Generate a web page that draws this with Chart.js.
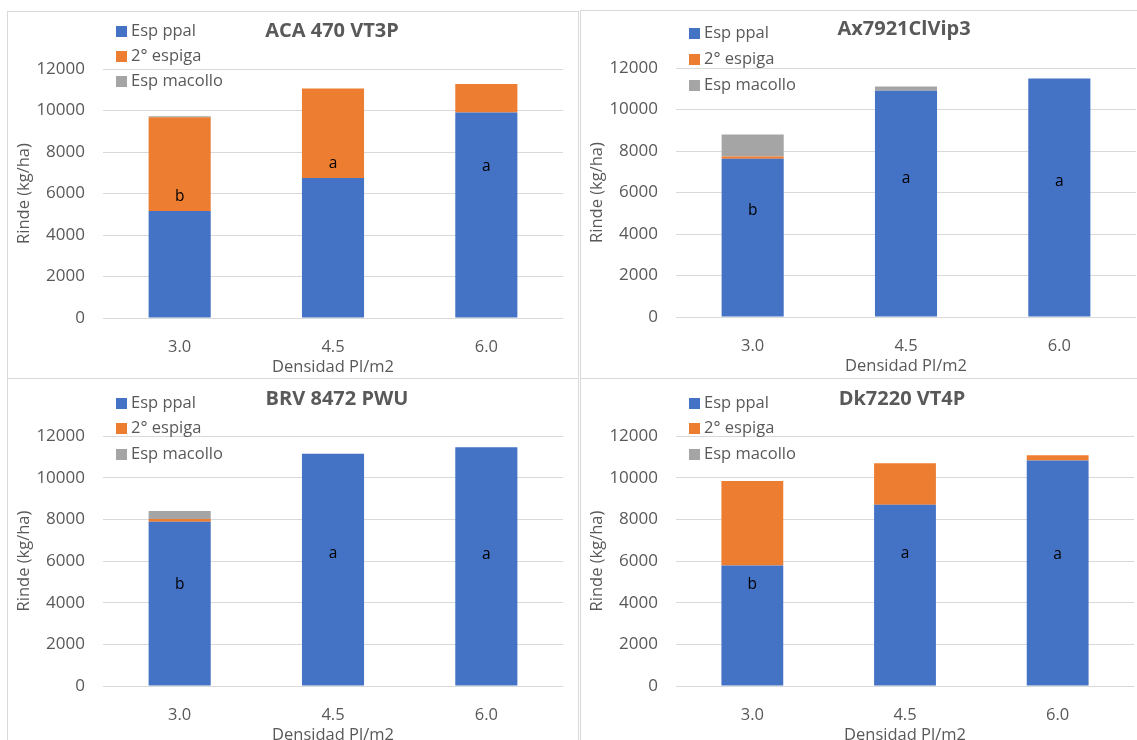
<!DOCTYPE html>
<html><head><meta charset="utf-8">
<script src="https://cdn.jsdelivr.net/npm/chart.js@4.4.0/dist/chart.umd.min.js"></script>
<style>
html,body{margin:0;padding:0;background:#fff;width:1137px;height:740px;overflow:hidden;position:relative}
.panel{position:absolute;border:1px solid #d9d9d9;box-sizing:border-box;overflow:hidden;background:#fff}
.panel canvas{position:absolute;left:0;top:0}
</style></head><body>
<div class="panel" style="left:7px;top:11px;width:572px;height:369px"><canvas id="c1" width="570" height="367"></canvas></div>
<div class="panel" style="left:580px;top:10px;width:560px;height:369px"><canvas id="c2" width="556" height="367"></canvas></div>
<div class="panel" style="left:7px;top:378px;width:572px;height:380px"><canvas id="c3" width="570" height="368"></canvas></div>
<div class="panel" style="left:580px;top:378px;width:560px;height:380px"><canvas id="c4" width="556" height="368"></canvas></div>
<script>
// ---- data ----
const categories = ['3.0', '4.5', '6.0'];
const seriesNames = ['Esp ppal', '2° espiga', 'Esp macollo'];
const yTickMin = 0, yTickMax = 12000, yTickStep = 2000;
const xAxisTitle = 'Densidad Pl/m2';
const yAxisTitle = 'Rinde (kg/ha)';

const titleACA = 'ACA 470 VT3P';
const ppalACA = [5160, 6750, 9900];
const espigaACA = [4520, 4310, 1380];
const macolloACA = [40, 0, 0];
const lettersACA = ['b', 'a', 'a'];

const titleAx = 'Ax7921ClVip3';
const ppalAx = [7630, 10900, 11490];
const espigaAx = [110, 0, 0];
const macolloAx = [1050, 210, 0];
const lettersAx = ['b', 'a', 'a'];

const titleBRV = 'BRV 8472 PWU';
const ppalBRV = [7890, 11150, 11460];
const espigaBRV = [130, 0, 0];
const macolloBRV = [380, 0, 0];
const lettersBRV = ['b', 'a', 'a'];

const titleDk = 'Dk7220 VT4P';
const ppalDk = [5790, 8700, 10820];
const espigaDk = [4050, 1990, 260];
const macolloDk = [0, 0, 0];
const lettersDk = ['b', 'a', 'a'];

// ---- styling / layout ----
const FONT = '"Open Sans", "Noto Sans", sans-serif';
const TXT = '#595959';
const colors = ['#4472C4', '#ED7D31', '#A5A5A5'];

const overlay = {
  id: 'overlay',
  afterDatasetsDraw(chart, args, o) {
    const ctx = chart.ctx, ca = chart.chartArea;
    ctx.save();
    ctx.textBaseline = 'middle';
    ctx.textAlign = 'center';
    ctx.fillStyle = TXT;
    ctx.font = 'bold 20px ' + FONT;
    ctx.fillText(o.title, (ca.left + ca.right) / 2 + o.titleDx, o.titleY);
    ctx.font = '16.5px ' + FONT;
    ctx.textAlign = 'left';
    chart.data.datasets.forEach((ds, i) => {
      const y = o.legendY + i * o.legendGap;
      ctx.fillStyle = ds.backgroundColor;
      ctx.fillRect(o.legendX, Math.round(y - 5.5), 11, 11);
      ctx.fillStyle = TXT;
      ctx.fillText(ds.label, o.legendX + 15, y);
    });
    const xs = chart.scales.x, ys = chart.scales.y;
    ctx.font = '15.5px ' + FONT;
    ctx.fillStyle = '#000';
    ctx.textAlign = 'center';
    o.letters.forEach((L, i) => {
      ctx.fillText(L, xs.getPixelForValue(i), ys.getPixelForValue(o.letterAt[i]));
    });
    ctx.restore();
  }
};

function makeChart(id, title, ppal, esp, mac, letters, lay) {
  const vals = [ppal, esp, mac];
  return new Chart(document.getElementById(id), {
    type: 'bar',
    data: {
      labels: categories,
      datasets: seriesNames.map((n, i) => ({
        label: n, data: vals[i], backgroundColor: colors[i],
        borderWidth: 0, barPercentage: 0.405, categoryPercentage: 1
      }))
    },
    options: {
      responsive: false, animation: false,
      layout: { padding: { top: 57, right: lay.right, left: 0, bottom: 0 } },
      plugins: {
        legend: { display: false }, tooltip: { enabled: false },
        overlay: {
          title: title, titleDx: lay.titleDx, titleY: lay.titleY,
          legendX: 108, legendY: lay.legendY, legendGap: lay.legendGap,
          letters: letters, letterAt: lay.letterAt
        }
      },
      scales: {
        x: {
          stacked: true,
          grid: { display: false }, border: { display: false },
          ticks: { color: TXT, font: { family: FONT, size: 16.5 }, padding: 11 },
          title: { display: true, text: xAxisTitle, color: TXT, font: { family: FONT, size: 16.5 }, padding: { top: 0, bottom: 2 } },
          afterFit(s) { s.height = 61; }
        },
        y: {
          stacked: true, min: yTickMin, max: yTickMax,
          ticks: { stepSize: yTickStep, color: TXT, font: { family: FONT, size: 17 }, padding: 18,
                   callback: (v) => String(v) },
          grid: { color: '#d9d9d9', drawTicks: false, lineWidth: 1 },
          border: { display: false },
          title: { display: true, text: yAxisTitle, color: TXT, font: { family: FONT, size: 16.5 }, padding: { top: 6, bottom: 0 } },
          afterFit(s) { s.width = 95; }
        }
      }
    },
    plugins: [overlay]
  });
}

function draw() {
  makeChart('c1', titleACA, ppalACA, espigaACA, macolloACA, lettersACA,
    { right: 15, titleDx: -1, titleY: 19, legendY: 19, legendGap: 25, letterAt: [5870, 7450, 7310] });
  makeChart('c2', titleAx, ppalAx, espigaAx, macolloAx, lettersAx,
    { right: 1, titleDx: -2, titleY: 18, legendY: 22, legendGap: 26, letterAt: [5120, 6690, 6530] });
  makeChart('c3', titleBRV, ppalBRV, espigaBRV, macolloBRV, lettersBRV,
    { right: 15, titleDx: 4, titleY: 20, legendY: 24, legendGap: 25.5, letterAt: [4880, 6370, 6290] });
  makeChart('c4', titleDk, ppalDk, espigaDk, macolloDk, lettersDk,
    { right: 3, titleDx: -3, titleY: 20, legendY: 24, legendGap: 25.5, letterAt: [4880, 6370, 6290] });
}
if (document.fonts && document.fonts.load) {
  Promise.all([document.fonts.load('16px "Open Sans"'), document.fonts.load('bold 20px "Open Sans"')]).then(draw, draw);
} else { draw(); }
</script>
</body></html>
